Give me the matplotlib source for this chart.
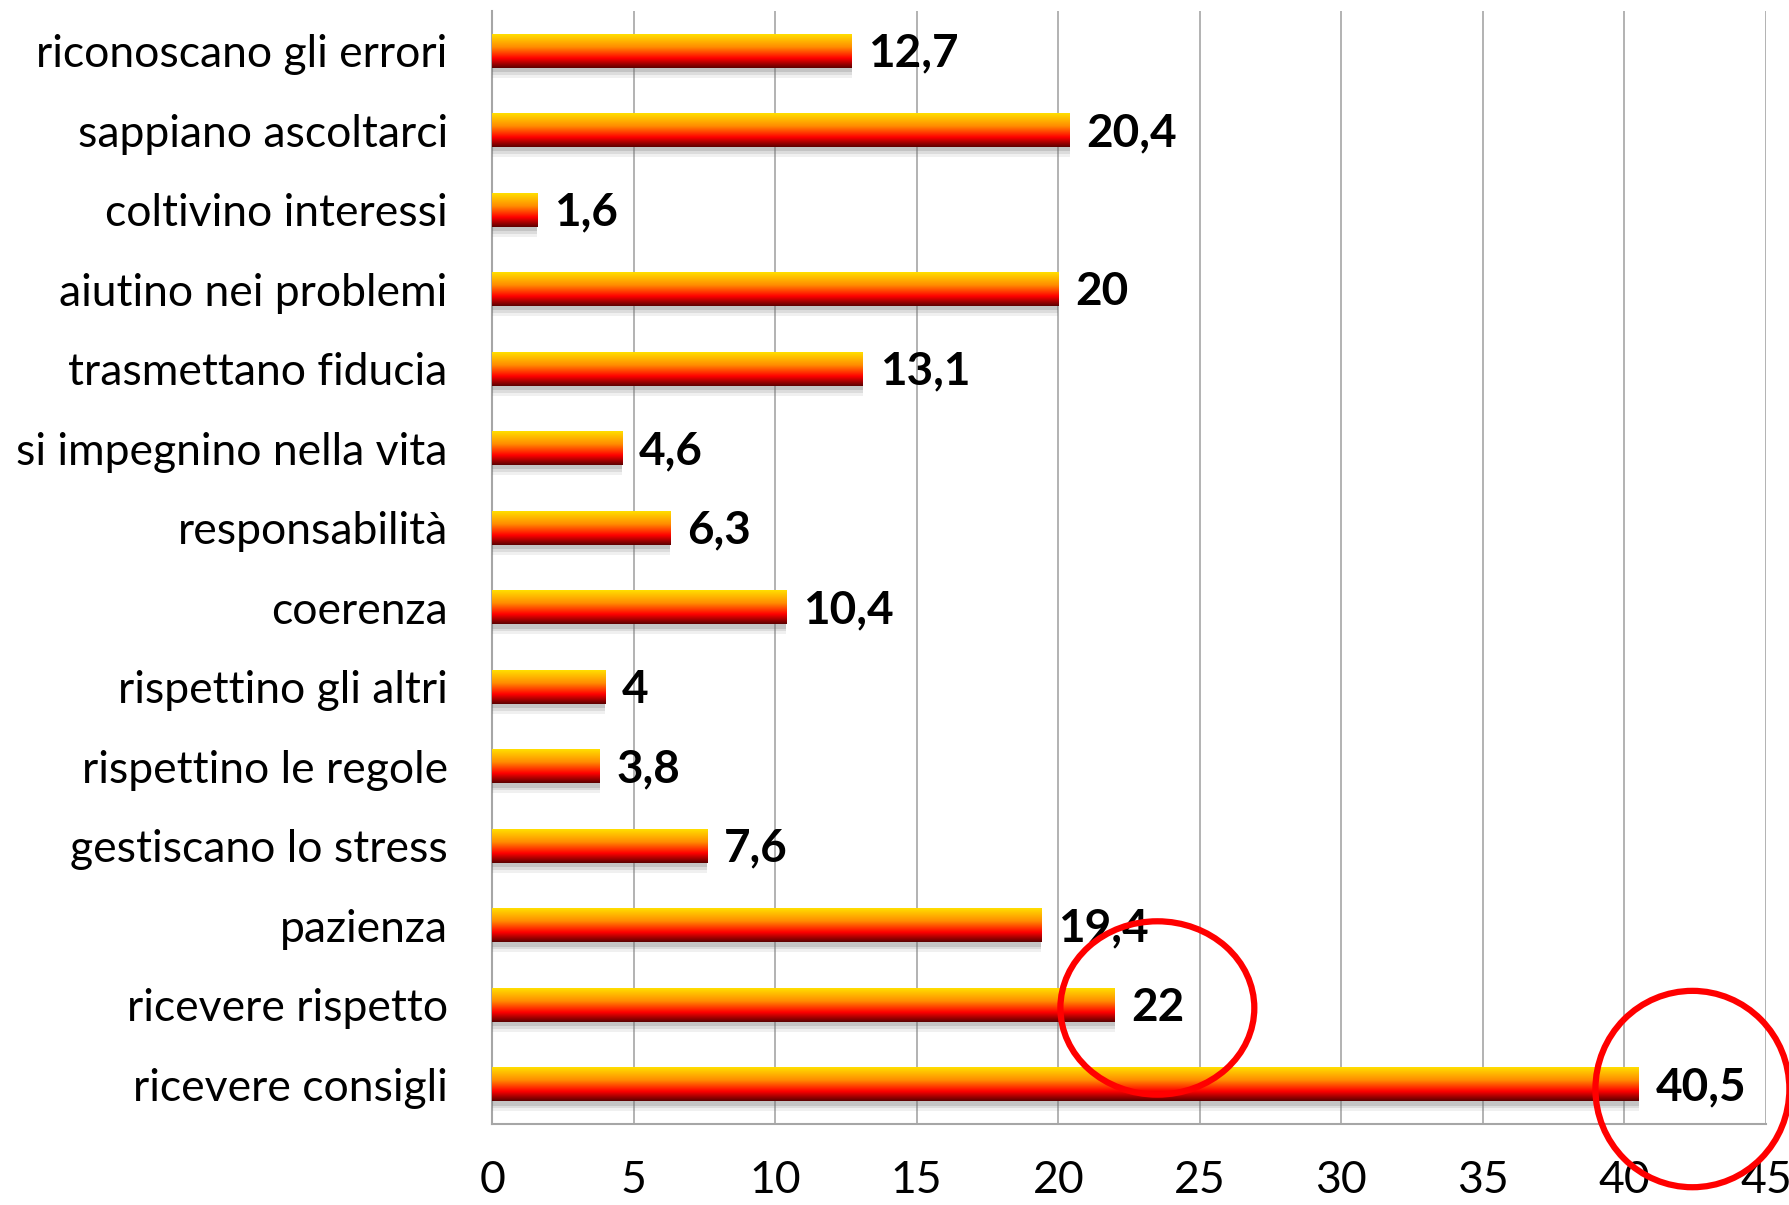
import matplotlib
matplotlib.use("Agg")
import matplotlib.pyplot as plt
import numpy as np
from matplotlib.colors import LinearSegmentedColormap
from matplotlib.patches import Ellipse
import matplotlib.patheffects as pe

categories = [
    "riconoscano gli errori",
    "sappiano ascoltarci",
    "coltivino interessi",
    "aiutino nei problemi",
    "trasmettano fiducia",
    "si impegnino nella vita",
    "responsabilità",
    "coerenza",
    "rispettino gli altri",
    "rispettino le regole",
    "gestiscano lo stress",
    "pazienza",
    "ricevere rispetto",
    "ricevere consigli",
]
values = [12.7, 20.4, 1.6, 20, 13.1, 4.6, 6.3, 10.4, 4, 3.8, 7.6, 19.4, 22, 40.5]
xticks = [0, 5, 10, 15, 20, 25, 30, 35, 40, 45]

plt.rcParams['font.family'] = ['Lato', 'DejaVu Sans']

fig = plt.figure(figsize=(17.9, 12.05), dpi=100)
ax = fig.add_axes([0.2749, 0.0672, 0.9866 - 0.2749, 0.9909 - 0.0672])

y = np.arange(len(categories))
shadow = [pe.SimplePatchShadow(offset=(0, -o), shadow_rgbFace="#707070", alpha=a)
          for o, a in [(7, 0.10), (5, 0.15), (3, 0.22)]]
bars = ax.barh(y, values, height=0.43, color="#ff6a00", zorder=3,
               path_effects=shadow + [pe.Normal()])

cmap = LinearSegmentedColormap.from_list(
    "grad", [(0.0, "#ffe600"), (0.4, "#ff8c00"), (0.72, "#ff0000"), (1.0, "#5a0000")])
grad = np.linspace(0, 1, 256).reshape(-1, 1)
for b in bars:
    x0, yb = b.get_x(), b.get_y()
    w, h = b.get_width(), b.get_height()
    im = ax.imshow(grad, cmap=cmap, aspect="auto", extent=(x0, x0 + w, yb + h, yb),
                   origin="upper", zorder=4, interpolation="bilinear")
    im.set_clip_path(b)

for yi, v in zip(y, values):
    ax.annotate(f"{v:g}".replace(".", ","), xy=(v, yi), xytext=(12, -2),
                textcoords="offset points", va="center", ha="left",
                fontsize=33, fontweight="bold", color="black", zorder=6)

ax.set_xlim(0, 45)
ax.set_ylim(len(categories) - 0.5, -0.5)
ax.set_xticks(xticks)
ax.set_yticks(y)
ax.set_yticklabels(categories, fontsize=32)
ax.tick_params(axis="x", labelsize=32, length=0, pad=26)
ax.tick_params(axis="y", length=0, pad=32)
ax.xaxis.grid(True, color="#a6a6a6", linewidth=1.2, zorder=0)
ax.set_axisbelow(True)
for s in ["top", "right"]:
    ax.spines[s].set_visible(False)
for s in ["left", "bottom"]:
    ax.spines[s].set_color("#a6a6a6")
    ax.spines[s].set_linewidth(1.5)

# red highlight ellipses (annotations)
ell_specs = [(23.5, 12.04, 6.85, 2.18), (42.4, 13.06, 6.85, 2.47)]
for cx, cy, ew, eh in ell_specs:
    ax.add_patch(Ellipse((cx, cy), ew, eh, fill=False, edgecolor="#ff0000",
                         linewidth=4.5, clip_on=False, zorder=7))

fig.savefig("out.png", dpi=100)
